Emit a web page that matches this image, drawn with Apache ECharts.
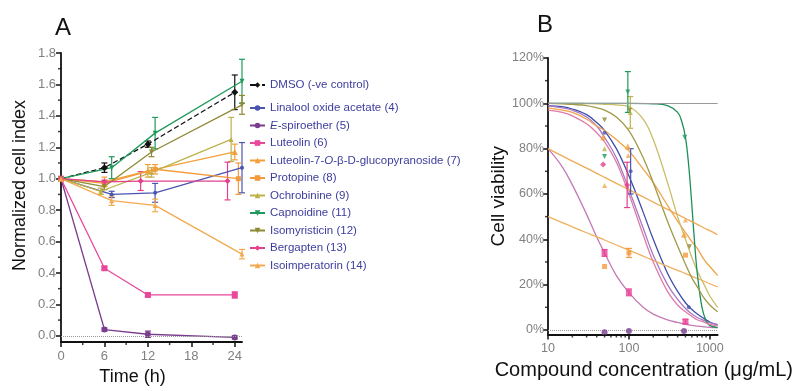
<!DOCTYPE html>
<html><head><meta charset="utf-8">
<script src="https://cdn.jsdelivr.net/npm/echarts@6/dist/echarts.min.js"></script>
<style>html,body{margin:0;padding:0;background:#fff}#c{width:796px;height:391px}</style>
</head><body><div id="c"></div>
<script>
// ---------- Panel A data: [time (h), normalized cell index, error] ----------
const A_NAMES = ['DMSO (-ve control)','Linalool oxide acetate (4)','E-spiroether (5)','Luteolin (6)',
  'Luteolin-7-O-\u03b2-D-glucopyranoside (7)','Protopine (8)','Ochrobinine (9)','Capnoidine (11)',
  'Isomyristicin (12)','Bergapten (13)','Isoimperatorin (14)'];
const A_dmso     = [[0,1.0,0],[6,1.07,0.03],[12,1.22,0.02],[24,1.55,0.11]];
const A_linalool = [[0,1.0,0],[7,0.90,0.02],[13,0.91,0.06],[25,1.07,0.16]];
const A_spiro    = [[0,1.0,0],[6,0.04,0.01],[12,0.01,0.02],[24,-0.01,0.01]];
const A_luteolin = [[0,1.0,0],[6,0.43,0.01],[12,0.26,0.01],[24,0.26,0.02]];
const A_lut7     = [[0,1.0,0],[6,0.98,0.03],[12,1.05,0.04],[24,1.17,0.05]];
const A_protop   = [[0,1.0,0],[6,0.97,0.02],[13,1.06,0.03],[24.5,1.00,0.10]];
const A_ochro    = [[0,1.0,0],[5.5,0.92,0.02],[12.5,1.04,0.03],[23.5,1.25,0.14]];
const A_capno    = [[0,1.0,0],[7,1.07,0.07],[13,1.29,0.10],[25,1.62,0.14]];
const A_isomyr   = [[0,1.0,0],[6,0.95,0.02],[12.5,1.17,0.03],[25,1.47,0.06]];
const A_bergap   = [[0,1.0,0],[6,0.98,0.01],[11,0.985,0.06],[23,0.985,0.12]];
const A_isoimp   = [[0,1.0,0],[7,0.86,0.03],[13,0.83,0.04],[25,0.52,0.03]];
const A_SERIES = [A_dmso,A_linalool,A_spiro,A_luteolin,A_lut7,A_protop,A_ochro,A_capno,A_isomyr,A_bergap,A_isoimp];
const A_X_TICKS = [0,6,12,18,24];
const A_X_MINOR = [3,9,15,21];
const A_Y_TICKS = [0,0.2,0.4,0.6,0.8,1.0,1.2,1.4,1.6,1.8];
const A_Y_MINOR = [0.1,0.3,0.5,0.7,0.9,1.1,1.3,1.5,1.7];

// ---------- Panel B data: [concentration (ug/mL), viability %, error] ----------
const B_linalool_pts = [[50,87,0],[105,70,10],[550,10,0]];
const B_spiro_pts    = [[50,-1,0],[100,-0.5,0],[480,-0.5,0]];
const B_luteolin_pts = [[50,34,1.5],[100,16.6,1.5],[500,3.7,1]];
const B_lut7_pts     = [[48,85,0],[97,81,0],[480,42,0]];
const B_protop_pts   = [[50,28,0],[100,34,2],[500,33,0]];
const B_ochro_pts    = [[50,80,0],[104,96,7]];
const B_capno_pts    = [[50,76.5,0],[97,105,9],[490,85,0]];
const B_isomyr_pts   = [[50,92.6,0],[102,97,0],[560,36.7,0]];
const B_bergap_pts   = [[48,73,0],[95,64,10]];
const B_isoimp_pts   = [[50,63.7,0],[98,77,0],[500,48.5,0]];

const B_CURVE_X      = [10,15,20,30,40,50,70,100,150,200,300,400,500,600,700,850,1000,1250];
const B_linalool_fit = [99,98.5,97.5,95,91.5,88,80,68,52,40,25,17,12,9,7,5,3.5,2.2];
const B_spiro_fit    = [99,98,97,94,90,85,76,62,45,33,20,13.5,9.5,7,5.5,4.2,3.2,2.3];
const B_luteolin_fit = [80,72,64,51,41,34,24,16.5,10,7,4.5,3.3,2.5,2,1.7,1.4,1.2,1];
const B_lut7_fit     = [98,97,96,93,90,88,84,79,71,65,55,48,43,39,36,31,28,24];
const B_protop_fit   = [50,47.4,45.5,42.9,41.1,39.7,37.5,35.2,32.6,30.7,28.1,26.3,24.9,23.7,22.7,21.5,20.4,19];
const B_ochro_fit    = [100,100,100,99.9,99.8,99.6,99.3,98.5,93,84,65,50,40,32,26,20,15,10];
const B_isomyr_fit   = [100,99.8,99.5,99,98,97,94,88,76,65,48,37,29,23,19,14,11,8];
const B_bergap_fit   = [97,96,94.5,91,87,83,74,60,42,30,17,11,8,6,4.5,3.5,2.5,1.8];
const B_isoimp_fit   = [80,76.8,74.5,71.4,69.1,67.3,64.7,61.9,58.7,56.4,53.2,51,49.2,47.8,46.6,45,43.8,42];
const B_CAPNO_X      = [10,100,200,300,400,450,500,550,600,650,700,800,900,1000,1250];
const B_capno_fit    = [100,100,99.8,99,96,92,85,72,55,38,25,10,4,2,1];
const B_X_MINOR = [20,30,40,50,60,70,80,90,200,300,400,500,600,700,800,900];
const B_Y_TICKS = [0,20,40,60,80,100,120];
const B_Y_MINOR = [10,30,50,70,90,110];

// ---------- styles ----------
const FONT = 'Liberation Sans, Arial, sans-serif';
const STY = [
  {c:'#111111', sym:'diamond', s:7, dash:true},
  {c:'#4a55b0', sym:'circle', s:4},
  {c:'#7a3d8f', sym:'circle', s:6},
  {c:'#e8479a', sym:'rect', s:6},
  {c:'#f2a03a', sym:'triangle', s:6},
  {c:'#f39a3c', sym:'rect', s:5},
  {c:'#bdb24a', sym:'triangle', s:5},
  {c:'#1f9a5c', sym:'triangle', s:5, rot:180},
  {c:'#8c8a32', sym:'triangle', s:5, rot:180},
  {c:'#e2408c', sym:'diamond', s:6},
  {c:'#f2aa50', sym:'triangle', s:5}
];
const B_LIST = [
  {p:B_linalool_pts, x:B_CURVE_X, f:B_linalool_fit, i:1, lc:'#3f4fa8'},
  {p:B_spiro_pts,    x:B_CURVE_X, f:B_spiro_fit,    i:2, lc:'#a678c4'},
  {p:B_luteolin_pts, x:B_CURVE_X, f:B_luteolin_fit, i:3, lc:'#c47ab4'},
  {p:B_lut7_pts,     x:B_CURVE_X, f:B_lut7_fit,     i:4, lc:'#f0a448'},
  {p:B_protop_pts,   x:B_CURVE_X, f:B_protop_fit,   i:5, lc:'#f0b060'},
  {p:B_ochro_pts,    x:B_CURVE_X, f:B_ochro_fit,    i:6, lc:'#c9bd66'},
  {p:B_capno_pts,    x:B_CAPNO_X, f:B_capno_fit,    i:7, lc:'#1f8f5a'},
  {p:B_isomyr_pts,   x:B_CURVE_X, f:B_isomyr_fit,   i:8, lc:'#a09a48'},
  {p:B_bergap_pts,   x:B_CURVE_X, f:B_bergap_fit,   i:9, lc:'#e07aa8'},
  {p:B_isoimp_pts,   x:B_CURVE_X, f:B_isoimp_fit,   i:10, lc:'#eeaa55'}
];

function errBar(color, cap) {
  return function (params, api) {
    const x = api.value(0), y = api.value(1), e = api.value(2);
    const p1 = api.coord([x, y + e]), p2 = api.coord([x, y - e]);
    const s = {stroke: color, lineWidth: 1.2};
    return {type: 'group', children: [
      {type:'line', shape:{x1:p1[0],y1:p1[1],x2:p2[0],y2:p2[1]}, style:s},
      {type:'line', shape:{x1:p1[0]-cap,y1:p1[1],x2:p1[0]+cap,y2:p1[1]}, style:s},
      {type:'line', shape:{x1:p2[0]-cap,y1:p2[1],x2:p2[0]+cap,y2:p2[1]}, style:s}
    ]};
  };
}

const series = [];
A_SERIES.forEach((d, i) => {
  const st = STY[i];
  const s = {
    type:'line', name:A_NAMES[i], xAxisIndex:0, yAxisIndex:0,
    data: d.map(p => [p[0], p[1]]),
    symbol: st.sym, symbolSize: st.s, symbolRotate: st.rot || 0,
    itemStyle:{color: st.c}, lineStyle:{color: st.c, width:1.3, type: st.dash ? 'dashed' : 'solid'},
    z: 4, animation:false
  };
  if (i === 0) s.markLine = {silent:true, symbol:'none', label:{show:false}, animation:false,
    lineStyle:{color:'#9a9a9a', type:'dotted', width:1}, data:[{yAxis:0}]};
  series.push(s);
  series.push({type:'custom', xAxisIndex:0, yAxisIndex:0, data: d.filter(p => p[2] > 0),
    renderItem: errBar(st.c, 3), z:3, silent:true, animation:false});
});
// minor ticks panel A
series.push({type:'scatter', xAxisIndex:0, yAxisIndex:0, data:A_X_MINOR.map(t => [t, -0.04]),
  symbol:'rect', symbolSize:[1.5,3], symbolOffset:[0,1.5], itemStyle:{color:'#111'}, clip:false, silent:true, animation:false, z:6});
series.push({type:'scatter', xAxisIndex:0, yAxisIndex:0, data:A_Y_MINOR.map(v => [0, v]),
  symbol:'rect', symbolSize:[3,1.5], symbolOffset:[-1.5,0], itemStyle:{color:'#111'}, clip:false, silent:true, animation:false, z:6});

// panel B
B_LIST.forEach((b, k) => {
  const st = STY[b.i];
  const line = {type:'line', name:'B-' + A_NAMES[b.i], xAxisIndex:1, yAxisIndex:1,
    data: b.x.map((x, j) => [x, b.f[j]]), smooth:0.4, showSymbol:false, symbol:'none',
    lineStyle:{color:b.lc, width:1.3}, z:3, animation:false};
  if (k === 0) line.markLine = {silent:true, symbol:'none', label:{show:false}, animation:false,
    data:[{yAxis:100, lineStyle:{color:'#9a9a9a', type:'solid', width:1}},
          {yAxis:0, lineStyle:{color:'#9a9a9a', type:'dotted', width:1}}]};
  series.push(line);
  series.push({type:'scatter', name:'Bp-' + A_NAMES[b.i], xAxisIndex:1, yAxisIndex:1,
    data: b.p.map(p => [p[0], p[1]]), symbol: st.sym, symbolSize: st.s, symbolRotate: st.rot || 0,
    itemStyle:{color: st.c}, z:5, animation:false, clip:false});
  series.push({type:'custom', xAxisIndex:1, yAxisIndex:1, data: b.p.filter(p => p[2] > 0),
    renderItem: errBar(st.c, 3), z:4, silent:true, animation:false});
});
series.push({type:'scatter', xAxisIndex:1, yAxisIndex:1, data:B_X_MINOR.map(c => [c, -2]),
  symbol:'rect', symbolSize:[1.5,3], symbolOffset:[0,1.5], itemStyle:{color:'#111'}, clip:false, silent:true, animation:false, z:6});
series.push({type:'scatter', xAxisIndex:1, yAxisIndex:1, data:B_Y_MINOR.map(v => [10, v]),
  symbol:'rect', symbolSize:[3,1.5], symbolOffset:[-1.5,0], itemStyle:{color:'#111'}, clip:false, silent:true, animation:false, z:6});

const axLine = {show:true, onZero:false, lineStyle:{color:'#111', width:1.8}};
const tickLbl = {color:'#808080', fontSize:13, fontFamily:FONT};
const legendText = {color:'#3d3d9e', fontSize:11.5, fontFamily:FONT, lineHeight:14,
  rich:{i:{fontStyle:'italic', color:'#3d3d9e', fontSize:11.5, fontFamily:FONT, lineHeight:14}}};
const legendFmt = n => n.replace(/^E-/, '{i|E}-').replace('-O-', '-{i|O}-');

const option = {
  backgroundColor:'#fff',
  animation:false,
  title:[
    {text:'A', left:55, top:16, padding:0, textStyle:{fontSize:24, fontWeight:'normal', color:'#111', fontFamily:FONT}},
    {text:'B', left:537, top:13, padding:0, textStyle:{fontSize:24, fontWeight:'normal', color:'#111', fontFamily:FONT}}
  ],
  legend:[
    {data:[A_NAMES[0]], left:249, top:78, orient:'vertical', padding:0, itemWidth:15, itemHeight:7,
     selectedMode:false, textStyle:legendText, formatter:legendFmt},
    {data:A_NAMES.slice(1), left:249, top:101, orient:'vertical', padding:0, itemWidth:15, itemHeight:7, itemGap:3.5,
     selectedMode:false, textStyle:legendText, formatter:legendFmt}
  ],
  grid:[
    {left:61, top:53, width:181, height:290},
    {left:548, top:58, width:172, height:276.5}
  ],
  xAxis:[
    {type:'value', gridIndex:0, min:0, max:25, interval:6, axisLine:axLine,
     axisTick:{show:true, length:5, lineStyle:{color:'#111', width:1.5}, customValues:A_X_TICKS},
     axisLabel:{...tickLbl, margin:8, customValues:A_X_TICKS}, splitLine:{show:false},
     name:'Time (h)', nameLocation:'middle', nameGap:24,
     nameTextStyle:{fontSize:18, color:'#111', fontFamily:FONT, padding:[0,38,0,0]}},
    {type:'log', logBase:10, gridIndex:1, min:10, max:1250, axisLine:axLine,
     axisTick:{show:true, length:5, lineStyle:{color:'#111', width:1.5}},
     axisLabel:{...tickLbl, fontSize:12.5, margin:8, showMaxLabel:false, formatter:v => String(Math.round(v))},
     splitLine:{show:false}, minorTick:{show:false}, minorSplitLine:{show:false},
     name:'Compound concentration (\u03bcg/mL)', nameLocation:'middle', nameGap:24,
     nameTextStyle:{fontSize:20, color:'#111', fontFamily:FONT, padding:[0,0,0,22]}}
  ],
  yAxis:[
    {type:'value', gridIndex:0, min:-0.04, max:1.8, axisLine:axLine,
     axisTick:{show:true, length:5, lineStyle:{color:'#111', width:1.5}, customValues:A_Y_TICKS},
     axisLabel:{...tickLbl, margin:5, customValues:A_Y_TICKS, formatter:v => v.toFixed(1)}, splitLine:{show:false},
     name:'Normalized cell index', nameLocation:'middle', nameGap:32,
     nameTextStyle:{fontSize:18, color:'#111', fontFamily:FONT, padding:[0,0,0,24]}},
    {type:'value', gridIndex:1, min:-2, max:120, axisLine:axLine,
     axisTick:{show:true, length:5, lineStyle:{color:'#111', width:1.5}, customValues:B_Y_TICKS},
     axisLabel:{...tickLbl, fontSize:12.5, margin:4, customValues:B_Y_TICKS, formatter:v => Math.round(v) + '%'},
     splitLine:{show:false},
     name:'Cell viability', nameLocation:'middle', nameGap:40,
     nameTextStyle:{fontSize:19, color:'#111', fontFamily:FONT}}
  ],
  series: series
};
const chart = echarts.init(document.getElementById('c'), null, {renderer:'canvas'});
chart.setOption(option);
</script></body></html>
